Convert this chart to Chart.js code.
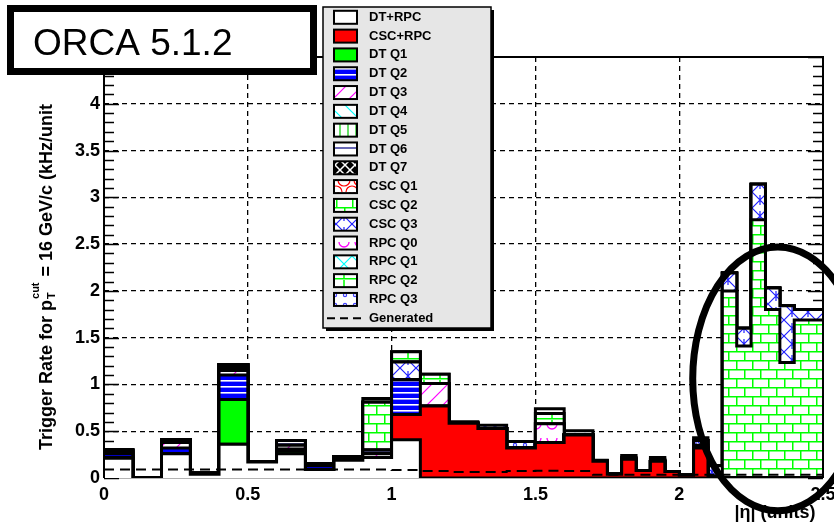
<!DOCTYPE html>
<html>
<head>
<meta charset="utf-8">
<script src="https://cdn.jsdelivr.net/npm/chart.js@4.4.1/dist/chart.umd.min.js"></script>
<style>
  html, body { margin: 0; padding: 0; background: #ffffff; }
  #wrap { width: 834px; height: 526px; position: relative; }
</style>
</head>
<body>
<div id="wrap"><canvas id="c"></canvas></div>
<script>
// |eta| bin edges: 0.1 wide up to 1.7, then 0.05 wide, last bin 2.4-2.5
const binEdges = [0, 0.1, 0.2, 0.3, 0.4, 0.5, 0.6, 0.7, 0.8, 0.9, 1.0, 1.1, 1.2, 1.3, 1.4, 1.5, 1.6, 1.7,
                  1.75, 1.8, 1.85, 1.9, 1.95, 2.0, 2.05, 2.1, 2.15, 2.2, 2.25, 2.3, 2.35, 2.4, 2.5];

// Trigger rate per bin (kHz/unit), one array per trigger class, stacked in this order
const dtRpc  = [0.21, 0, 0.26, 0.04, 0.36, 0.17, 0.26, 0.09, 0.19, 0.22, 0.41, 0, 0, 0, 0, 0,
                0, 0, 0, 0, 0, 0, 0, 0, 0, 0, 0, 0, 0, 0, 0, 0];
const cscRpc = [0, 0, 0, 0, 0, 0, 0, 0, 0, 0, 0.27, 0.77, 0.585, 0.53, 0.32, 0.38,
                0.46, 0.18, 0.04, 0.20, 0.08, 0.18, 0.07, 0.03, 0.32, 0, 0, 0, 0, 0, 0, 0];
const dtQ1   = [0.01, 0, 0, 0, 0.48, 0, 0.03, 0, 0, 0, 0, 0, 0, 0, 0, 0,
                0, 0, 0, 0, 0, 0, 0, 0, 0, 0, 0, 0, 0, 0, 0, 0];
const dtQ2   = [0.04, 0, 0.06, 0.01, 0.26, 0, 0.02, 0.04, 0.02, 0, 0.37, 0, 0, 0, 0, 0,
                0, 0, 0, 0, 0, 0, 0, 0, 0, 0, 0, 0, 0, 0, 0, 0];
const dtQ3   = [0.02, 0, 0.06, 0, 0.05, 0, 0.04, 0, 0, 0.04, 0, 0.24, 0, 0, 0, 0,
                0, 0, 0, 0, 0, 0, 0, 0, 0, 0, 0, 0, 0, 0, 0, 0];
const dtQ4   = [0, 0, 0, 0, 0.02, 0, 0, 0, 0, 0, 0, 0, 0, 0, 0, 0,
                0, 0, 0, 0, 0, 0, 0, 0, 0, 0, 0, 0, 0, 0, 0, 0];
const dtQ5   = [0, 0, 0, 0, 0.01, 0, 0, 0, 0, 0, 0, 0, 0, 0, 0, 0,
                0, 0, 0, 0, 0, 0, 0, 0, 0, 0, 0, 0, 0, 0, 0, 0];
const dtQ6   = [0.02, 0, 0.03, 0, 0.03, 0, 0.05, 0.02, 0.02, 0.04, 0, 0, 0, 0, 0, 0,
                0, 0, 0, 0, 0, 0, 0, 0, 0, 0, 0, 0, 0, 0, 0, 0];
const dtQ7   = [0, 0, 0, 0, 0, 0, 0, 0, 0, 0, 0, 0, 0, 0, 0, 0,
                0, 0, 0, 0, 0, 0, 0, 0, 0, 0, 0, 0, 0, 0, 0, 0];
const cscQ1  = [0, 0, 0, 0, 0, 0, 0, 0, 0, 0, 0, 0, 0, 0, 0, 0,
                0, 0, 0, 0, 0, 0, 0, 0, 0, 0, 0, 0, 0, 0, 0, 0];
const cscQ2  = [0, 0, 0, 0, 0, 0, 0, 0, 0, 0.51, 0, 0, 0, 0, 0, 0,
                0, 0, 0, 0, 0, 0, 0, 0, 0.03, 0.02, 2.00, 1.41, 2.76, 1.80, 1.235, 1.69];
const cscQ3  = [0, 0, 0, 0, 0, 0, 0, 0, 0, 0, 0.19, 0, 0, 0, 0, 0,
                0, 0, 0, 0, 0, 0, 0, 0, 0.05, 0.11, 0.19, 0.19, 0.38, 0.23, 0.605, 0.11];
const rpcQ0  = [0, 0, 0, 0, 0, 0, 0, 0, 0, 0, 0, 0, 0, 0, 0, 0.20,
                0, 0, 0, 0, 0, 0, 0, 0, 0, 0, 0, 0, 0, 0, 0, 0];
const rpcQ1  = [0, 0, 0, 0, 0, 0, 0, 0, 0, 0, 0, 0, 0, 0, 0, 0,
                0, 0, 0, 0, 0, 0, 0, 0, 0, 0, 0, 0, 0, 0, 0, 0];
const rpcQ2  = [0, 0, 0, 0, 0, 0, 0, 0, 0, 0, 0.11, 0.10, 0, 0, 0, 0.11,
                0, 0, 0, 0.02, 0, 0.02, 0, 0, 0, 0, 0, 0, 0, 0, 0, 0];
const rpcQ3  = [0, 0, 0, 0, 0, 0, 0, 0, 0, 0.04, 0, 0, 0.015, 0.035, 0.07, 0.05,
                0.045, 0.01, 0, 0.02, 0, 0.02, 0, 0, 0.03, 0, 0, 0, 0, 0, 0, 0];
// Generated-muon rate, drawn as a dashed outline on top of the stack
const generated = [0.09, 0.09, 0.09, 0.09, 0.09, 0.09, 0.09, 0.09, 0.09, 0.09, 0.085, 0.075, 0.065, 0.065, 0.075, 0.078,
                   0.075, 0.035, 0.035, 0.035, 0.035, 0.035, 0.035, 0.035, 0.035, 0.035, 0.035, 0.035, 0.035, 0.035, 0.035, 0.035];

const xTickStep = 0.5, yTickStep = 0.5;
const xMax = 2.5, yMax = 4.5;

// ---- fill patterns -------------------------------------------------------
const canvas = document.getElementById('c');
const mainCtx = canvas.getContext('2d');
function tile(w, h, bg, paint) {
  const t = document.createElement('canvas');
  t.width = w; t.height = h;
  const g = t.getContext('2d');
  g.fillStyle = bg; g.fillRect(0, 0, w, h);
  g.lineCap = 'butt';
  paint(g, w, h);
  return mainCtx.createPattern(t, 'repeat');
}
function seg(g, color, lw, list) {
  g.strokeStyle = color; g.lineWidth = lw; g.beginPath();
  for (const [a, b, c, d] of list) { g.moveTo(a, b); g.lineTo(c, d); }
  g.stroke();
}
function arcs(g, color, lw, list) {
  g.strokeStyle = color; g.lineWidth = lw;
  for (const [x, y, r, s, e] of list) { g.beginPath(); g.arc(x, y, r, s, e); g.stroke(); }
}
const PI = Math.PI;
const fills = {
  'DT+RPC':  '#ffffff',
  'CSC+RPC': '#ff0000',
  'DT Q1':   '#00ff00',
  'DT Q2':   tile(6, 6, '#0000ff', g => { g.fillStyle = '#ffffff'; g.fillRect(0, 2, 6, 1.6); }),
  'DT Q3':   tile(16, 16, '#ffffff', g => seg(g, '#ff00ff', 1.2, [[-2, 18, 18, -2], [-2, 2, 2, -2], [14, 18, 18, 14]])),
  'DT Q4':   tile(16, 16, '#ffffff', g => seg(g, '#00ffff', 1.2, [[-2, -2, 18, 18], [-2, 14, 2, 18], [14, -2, 18, 2]])),
  'DT Q5':   tile(8, 8, '#ffffff', g => seg(g, '#00cc00', 1.2, [[4, 0, 4, 8]])),
  'DT Q6':   tile(8, 8, '#ffffff', g => seg(g, '#000080', 1.2, [[0, 4, 8, 4]])),
  'DT Q7':   tile(10, 10, '#000000', g => seg(g, '#ffffff', 1.5, [[-1, -1, 11, 11], [11, -1, -1, 11]])),
  'CSC Q1':  tile(16, 12, '#ffffff', g => arcs(g, '#ff0000', 1.2, [[8, 0, 6, 0, PI], [0, 12, 6, PI, 2 * PI], [16, 12, 6, PI, 2 * PI]])),
  'CSC Q2':  tile(16, 18, '#ffffff', g => seg(g, '#00ff00', 1.5, [[0, 0.75, 16, 0.75], [0, 9.75, 16, 9.75], [0.75, 0, 0.75, 9.75], [8.75, 9.75, 8.75, 18]])),
  'CSC Q3':  tile(16, 16, '#ffffff', g => seg(g, '#2020ff', 1.2, [[-1, -1, 17, 17], [17, -1, -1, 17], [8, 3, 8, 13]])),
  'RPC Q0':  tile(16, 14, '#ffffff', g => arcs(g, '#ff00ff', 1.3, [[8, 4, 5, 0, PI]])),
  'RPC Q1':  tile(16, 16, '#ffffff', g => seg(g, '#00ffff', 1.2, [[-1, -1, 17, 17], [17, -1, -1, 17]])),
  'RPC Q2':  tile(16, 10, '#ffffff', g => seg(g, '#00ff00', 1.5, [[0, 8.75, 16, 8.75], [8, 0, 8, 8]])),
  'RPC Q3':  tile(10, 10, '#ffffff', g => arcs(g, '#4040ff', 1.2, [[5, 5, 1.6, 0, 2 * PI]]))
};

// ---- stacked step datasets ----------------------------------------------
const stack = [
  ['DT+RPC', dtRpc], ['CSC+RPC', cscRpc], ['DT Q1', dtQ1], ['DT Q2', dtQ2], ['DT Q3', dtQ3],
  ['DT Q4', dtQ4], ['DT Q5', dtQ5], ['DT Q6', dtQ6], ['DT Q7', dtQ7], ['CSC Q1', cscQ1],
  ['CSC Q2', cscQ2], ['CSC Q3', cscQ3], ['RPC Q0', rpcQ0], ['RPC Q1', rpcQ1], ['RPC Q2', rpcQ2], ['RPC Q3', rpcQ3]
];
function stepPoints(values) {
  const pts = values.map((v, i) => ({ x: binEdges[i], y: v }));
  pts.push({ x: binEdges[binEdges.length - 1], y: values[values.length - 1] });
  return pts;
}
let running = dtRpc.map(() => 0);
const datasets = stack.map(([label, values], k) => {
  running = running.map((r, i) => r + values[i]);
  return {
    label, data: stepPoints(running),
    backgroundColor: fills[label], borderColor: '#000000', borderWidth: 3,
    fill: k === 0 ? 'origin' : '-1', stepped: 'before', pointRadius: 0, order: 0
  };
});
datasets.push({
  label: 'Generated', data: stepPoints(generated),
  borderColor: '#000000', borderWidth: 2, borderDash: [10, 6],
  fill: false, stepped: 'before', pointRadius: 0, order: -1
});

const FONT = '"Liberation Sans", Arial, Helvetica, sans-serif';
Chart.defaults.font.family = FONT;
Chart.defaults.color = '#000000';

// ---- decorations: inner ticks, frame, legend box, labels, ellipse --------
const decorations = {
  id: 'decorations',
  beforeDatasetsDraw(chart) {
    const { ctx, chartArea: a, scales: { y } } = chart;
    ctx.save();
    ctx.strokeStyle = '#999999'; ctx.lineWidth = 1.5;
    ctx.beginPath(); ctx.moveTo(a.left, a.bottom); ctx.lineTo(a.right, a.bottom); ctx.stroke();
    ctx.strokeStyle = '#000000'; ctx.lineWidth = 1.5;
    ctx.beginPath();
    for (let i = 0; i <= 45; i++) {
      const py = Math.round(y.getPixelForValue(i / 10)) + 0.5;
      const len = (i % 5 === 0) ? 15 : 10;
      ctx.moveTo(a.left, py); ctx.lineTo(a.left + len, py);
      ctx.moveTo(a.right, py); ctx.lineTo(a.right - len, py);
    }
    ctx.stroke();
    ctx.restore();
  },
  afterDatasetsDraw(chart) {
    const { ctx, chartArea: a } = chart;
    ctx.save();
    ctx.strokeStyle = '#000000';
    ctx.lineWidth = 2;
    ctx.beginPath();
    ctx.moveTo(a.left, a.bottom); ctx.lineTo(a.left, a.top);
    ctx.lineTo(a.right, a.top); ctx.lineTo(a.right, a.bottom);
    ctx.stroke();
    ctx.restore();
  },
  afterDraw(chart) {
    const { ctx, scales: { x, y } } = chart;
    ctx.save();

    // y-axis title with p_T^cut
    ctx.translate(47, 450);
    ctx.rotate(-Math.PI / 2);
    ctx.fillStyle = '#000000';
    ctx.textBaseline = 'middle';
    const big = 'bold 18px ' + FONT, small = 'bold 11px ' + FONT;
    let tx = 0;
    ctx.font = big;
    const part1 = 'Trigger Rate for p';
    ctx.fillText(part1, tx, 0); tx += ctx.measureText(part1).width + 1;
    ctx.font = small;
    ctx.fillText('T', tx, 5);
    ctx.fillText('cut', tx, -11);
    tx += Math.max(ctx.measureText('T').width, ctx.measureText('cut').width) + 1;
    ctx.font = big;
    ctx.fillText(' = 16 GeV/c (kHz/unit', tx, 0);
    ctx.restore();

    // x-axis title
    ctx.save();
    ctx.font = 'bold 18px ' + FONT;
    ctx.fillStyle = '#000000';
    ctx.textAlign = 'center'; ctx.textBaseline = 'middle';
    ctx.fillText('|\u03B7| (units)', 775, 513);
    ctx.restore();

    // label box
    ctx.save();
    ctx.fillStyle = '#ffffff';
    ctx.fillRect(7, 5, 310, 70);
    ctx.strokeStyle = '#000000'; ctx.lineWidth = 7;
    ctx.strokeRect(10.5, 8.5, 303, 63);
    ctx.fillStyle = '#000000';
    ctx.font = '37px ' + FONT;
    ctx.textBaseline = 'alphabetic';
    ctx.fillText('ORCA 5.1.2', 33, 55);
    ctx.restore();

    // legend box
    ctx.save();
    const L = 323, T = 7, R = 491, B = 328;
    ctx.fillStyle = '#000000';
    ctx.fillRect(L + 3, T + 3, R - L, B - T);
    ctx.fillStyle = '#e6e6e6';
    ctx.fillRect(L, T, R - L, B - T);
    ctx.strokeStyle = '#000000'; ctx.lineWidth = 1.5;
    ctx.strokeRect(L, T, R - L, B - T);
    ctx.font = 'bold 13px ' + FONT;
    ctx.textBaseline = 'middle';
    chart.data.datasets.forEach((ds, i) => {
      const cy = 17.3 + i * 18.81;
      if (ds.fill === false) {
        ctx.save();
        ctx.setLineDash([8, 5]);
        ctx.lineWidth = 2; ctx.strokeStyle = '#000000';
        ctx.beginPath(); ctx.moveTo(327, cy); ctx.lineTo(364, cy); ctx.stroke();
        ctx.restore();
      } else {
        ctx.fillStyle = ds.backgroundColor;
        ctx.fillRect(334, cy - 6.5, 23, 13);
        ctx.strokeStyle = '#000000'; ctx.lineWidth = 2;
        ctx.strokeRect(334, cy - 6.5, 23, 13);
      }
      ctx.fillStyle = '#000000';
      ctx.fillText(ds.label, 369, cy);
    });
    ctx.restore();

    // highlighted forward region
    const ecx = x.getPixelForValue(2.343), ecy = y.getPixelForValue(1.06);
    const erx = x.getPixelForValue(2.343 + 0.296) - ecx;
    const ery = ecy - y.getPixelForValue(1.06 + 1.41);
    ctx.save();
    ctx.strokeStyle = '#000000'; ctx.lineWidth = 7;
    ctx.beginPath(); ctx.ellipse(ecx, ecy, erx, ery, 0, 0, 2 * Math.PI); ctx.stroke();
    ctx.restore();
  }
};

const hideEdges = (maxV) => (c) => (c.tick && (c.tick.value <= 0 || c.tick.value >= maxV)) ? 'rgba(0,0,0,0)' : '#000000';

new Chart(canvas, {
  type: 'line',
  data: { datasets },
  options: {
    responsive: true,
    maintainAspectRatio: false,
    animation: false,
    devicePixelRatio: 1,
    layout: { padding: { top: 57, right: 11, bottom: 0, left: 0 } },
    plugins: {
      legend: { display: false },
      tooltip: { enabled: false },
      title: { display: false }
    },
    scales: {
      x: {
        type: 'linear', min: 0, max: xMax,
        ticks: { stepSize: xTickStep, padding: 6, font: { size: 18, weight: 'bold' }, color: '#000000',
                 maxRotation: 0, callback: v => String(v) },
        grid: { color: hideEdges(xMax), lineWidth: 1.3, drawTicks: false },
        border: { display: false, dash: [5, 4] },
        afterFit: s => { s.height = 48; s.paddingLeft = 0; s.paddingRight = 0; }
      },
      y: {
        type: 'linear', min: 0, max: yMax,
        ticks: { stepSize: yTickStep, padding: 4, font: { size: 18, weight: 'bold' }, color: '#000000',
                 callback: v => String(v) },
        grid: { color: hideEdges(yMax), lineWidth: 1.3, drawTicks: false },
        border: { display: false, dash: [5, 4] },
        afterFit: s => { s.width = 104; s.paddingTop = 0; s.paddingBottom = 0; }
      }
    }
  },
  plugins: [decorations]
});
</script>
</body>
</html>
